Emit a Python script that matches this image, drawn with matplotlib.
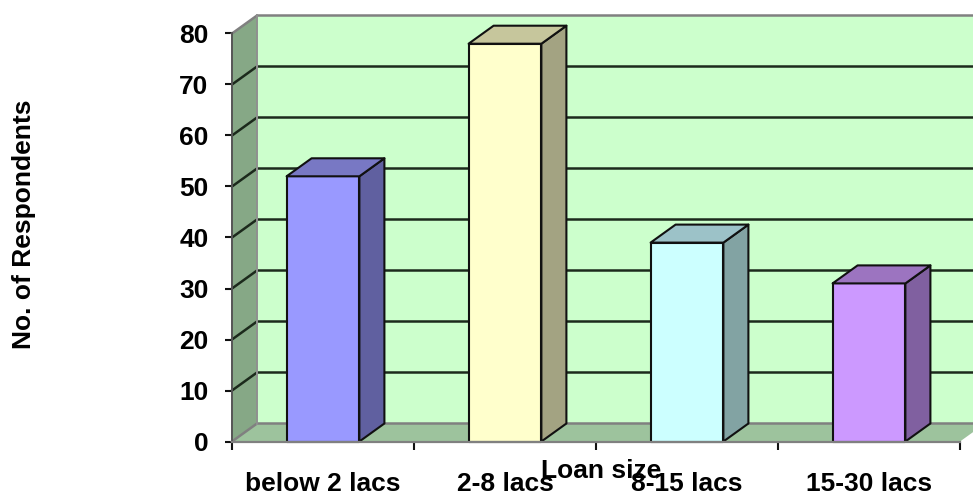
import matplotlib
matplotlib.use("Agg")
import matplotlib.pyplot as plt
from matplotlib.patches import Polygon

categories = ["below 2 lacs", "2-8 lacs", "8-15 lacs", "15-30 lacs"]
respondents = [52, 78, 39, 31]
y_ticks = [0, 10, 20, 30, 40, 50, 60, 70, 80]

front_colors = ["#9999FF", "#FFFFCC", "#CCFFFF", "#CC99FF"]
top_colors = ["#7878C4", "#C6C69C", "#9CC2C8", "#9C74C0"]
side_colors = ["#6060A0", "#A3A382", "#82A3A3", "#8060A0"]

WIDTH, HEIGHT = 973, 493
# pseudo-3D depth, in data units
DX = 25 / 182
DY = 18 / 5.1
BAR_LEFT = 0.30
BAR_RIGHT = 0.70
EDGE = "#111111"
FONT_SIZE = 19

plt.rcParams["font.family"] = ["Liberation Sans", "DejaVu Sans"]
plt.rcParams["font.weight"] = "bold"

fig = plt.figure(figsize=(WIDTH / 100, HEIGHT / 100), dpi=100)
ax = fig.add_axes([232 / WIDTH, (HEIGHT - 441.5) / HEIGHT, 728 / WIDTH, 408 / HEIGHT])
ax.set_xlim(0, len(categories))
ax.set_ylim(0, 80)
ax.patch.set_visible(False)


def face(points, color, edge="none", lw=0.0, z=1):
    ax.add_patch(Polygon(points, closed=True, facecolor=color, edgecolor=edge,
                         linewidth=lw, zorder=z, clip_on=False, joinstyle="round"))


n = len(categories)

# walls and floor
face([(DX, DY), (n + DX, DY), (n + DX, 80 + DY), (DX, 80 + DY)], "#CCFFCC", z=1)
face([(0, 0), (DX, DY), (DX, 80 + DY), (0, 80)], "#86A886", z=1)
face([(0, 0), (n, 0), (n + DX, DY), (DX, DY)], "#9DC39D", z=1)

# gridlines run across the side wall and the back wall
for v in y_ticks:
    color = "#808080" if v in (0, 80) else "#1c2a1c"
    ax.plot([0, DX, n + DX], [v, v + DY, v + DY], color=color, lw=1.8,
            zorder=2, clip_on=False, solid_joinstyle="round")
ax.plot([DX, DX], [DY, 80 + DY], color="#909090", lw=1.4, zorder=2, clip_on=False)

# bars
for i, value in enumerate(respondents):
    left = i + BAR_LEFT
    right = i + BAR_RIGHT
    face([(left, 0), (right, 0), (right, value), (left, value)],
         front_colors[i], EDGE, 1.5, 4)
    face([(right, 0), (right + DX, DY), (right + DX, value + DY), (right, value)],
         side_colors[i], EDGE, 1.5, 4)
    face([(left, value), (right, value), (right + DX, value + DY), (left + DX, value + DY)],
         top_colors[i], EDGE, 1.5, 4)

ax.set_yticks(y_ticks)
ax.set_xticks(range(n + 1))
ax.set_xticklabels([])
ax.set_xticks([i + 0.5 for i in range(n)], minor=True)
ax.set_xticklabels(categories, minor=True)
ax.tick_params(axis="x", which="minor", length=0, pad=22, labelsize=FONT_SIZE)
ax.tick_params(axis="x", which="major", length=5.5, width=1.5, color="#111111")
ax.tick_params(axis="y", length=5, width=1.5, color="#111111", pad=12, labelsize=FONT_SIZE)

for name in ("top", "right"):
    ax.spines[name].set_visible(False)
ax.spines["left"].set_color("#555555")
ax.spines["left"].set_linewidth(1.4)
ax.spines["bottom"].set_color("#808080")
ax.spines["bottom"].set_linewidth(1.6)
ax.spines["left"].set_zorder(5)
ax.spines["bottom"].set_zorder(5)

fig.text(601 / WIDTH, (HEIGHT - 471) / HEIGHT, "Loan size", ha="center", va="center",
         fontsize=FONT_SIZE, fontweight="bold")
fig.text(24 / WIDTH, (HEIGHT - 224) / HEIGHT, "No. of Respondents", ha="center", va="center",
         rotation=90, fontsize=FONT_SIZE, fontweight="bold")

fig.savefig("out.png", dpi=100)
